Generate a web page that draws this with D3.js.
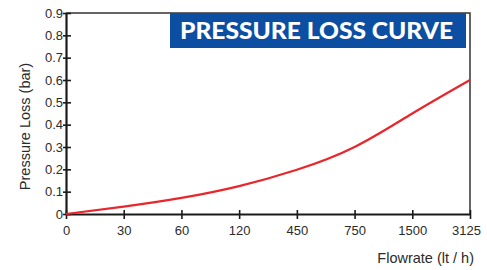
<!DOCTYPE html>
<html>
<head>
<meta charset="utf-8">
<script src="https://cdn.jsdelivr.net/npm/d3@7"></script>
<style>
  body { margin: 0; background: #fff; }
  text { font-family: "Liberation Sans", Arial, sans-serif; fill: #2b2b2b; }
</style>
</head>
<body>
<div id="chart"></div>
<script>
// flowrate categories (lt / h) and pressure loss (bar)
const flowrates = ["0", "30", "60", "120", "450", "750", "1500", "3125"];
const pressure_loss = [0, 0.033, 0.072, 0.125, 0.198, 0.30, 0.45, 0.60];
const y_ticks = [0, 0.1, 0.2, 0.3, 0.4, 0.5, 0.6, 0.7, 0.8, 0.9];

const W = 487, H = 270;
const margins = { top: 13, right: 17, bottom: 56, left: 66 };
const width = W - margins.left - margins.right;
const height = H - margins.top - margins.bottom;

const svg = d3.select("#chart").append("svg")
	.attr("width", W)
	.attr("height", H);

const x_scale = d3.scalePoint().domain(flowrates).range([margins.left, margins.left + width]);
const y_scale = d3.scaleLinear().domain([0, 0.9]).range([margins.top + height, margins.top]);

// frame top and right
svg.append("path")
	.attr("d", `M${margins.left},${margins.top}H${margins.left + width}V${margins.top + height}`)
	.attr("fill", "none")
	.attr("stroke", "#333")
	.attr("stroke-width", 1.5);

// x axis
const xg = svg.append("g")
	.attr("transform", `translate(0, ${margins.top + height})`)
	.call(d3.axisBottom(x_scale).tickSize(0).tickPadding(12));
xg.select(".domain").attr("stroke", "#1a1a1a").attr("stroke-width", 2.2);
xg.selectAll(".tick line").remove();
xg.selectAll(".tick").append("line")
	.attr("y1", -4).attr("y2", 5)
	.attr("stroke", "#1a1a1a").attr("stroke-width", 1.6);
xg.selectAll(".tick text").attr("font-size", 13).style("font-family", "Liberation Sans, Arial, sans-serif").attr("fill", "#2b2b2b");
xg.selectAll(".tick").filter((d, i) => i === flowrates.length - 1).select("text").attr("dx", -4);

// y axis
const yg = svg.append("g")
	.attr("transform", `translate(${margins.left}, 0)`)
	.call(d3.axisLeft(y_scale).tickValues(y_ticks).tickFormat(d => d === 0 ? "0" : d3.format(".1f")(d)).tickSize(0).tickPadding(3));
yg.select(".domain").attr("stroke", "#1a1a1a").attr("stroke-width", 2.2);
yg.selectAll(".tick line").remove();
yg.selectAll(".tick").append("line")
	.attr("x1", -3).attr("x2", 5)
	.attr("stroke", "#1a1a1a").attr("stroke-width", 1.6);
yg.selectAll(".tick text").attr("font-size", 13).style("font-family", "Liberation Sans, Arial, sans-serif").attr("fill", "#2b2b2b");

// curve
const line = d3.line()
	.x((d, i) => x_scale(flowrates[i]))
	.y(d => y_scale(d))
	.curve(d3.curveNatural);

svg.append("path")
	.datum(pressure_loss)
	.attr("d", line)
	.attr("fill", "none")
	.attr("stroke", "#e8262b")
	.attr("stroke-width", 2.2);

// title box
svg.append("rect")
	.attr("x", 170).attr("y", margins.top)
	.attr("width", 296).attr("height", 35)
	.attr("fill", "#0b4ea2");
svg.append("text")
	.attr("x", 180).attr("y", 39)
	.attr("font-size", 22)
	.attr("font-weight", 900)
	.attr("textLength", 273)
	.attr("lengthAdjust", "spacingAndGlyphs")
	.style("font-family", "Lato, 'Open Sans', sans-serif")
	.style("fill", "#fff")
	.text("PRESSURE LOSS CURVE");

// axis titles
svg.append("text")
	.attr("transform", `translate(30, ${margins.top + height / 2 + 13}) rotate(-90)`)
	.attr("text-anchor", "middle")
	.attr("font-size", 14.5)
	.text("Pressure Loss (bar)");

svg.append("text")
	.attr("x", 474).attr("y", 263)
	.attr("text-anchor", "end")
	.attr("font-size", 14.5)
	.text("Flowrate (lt / h)");
</script>
</body>
</html>
